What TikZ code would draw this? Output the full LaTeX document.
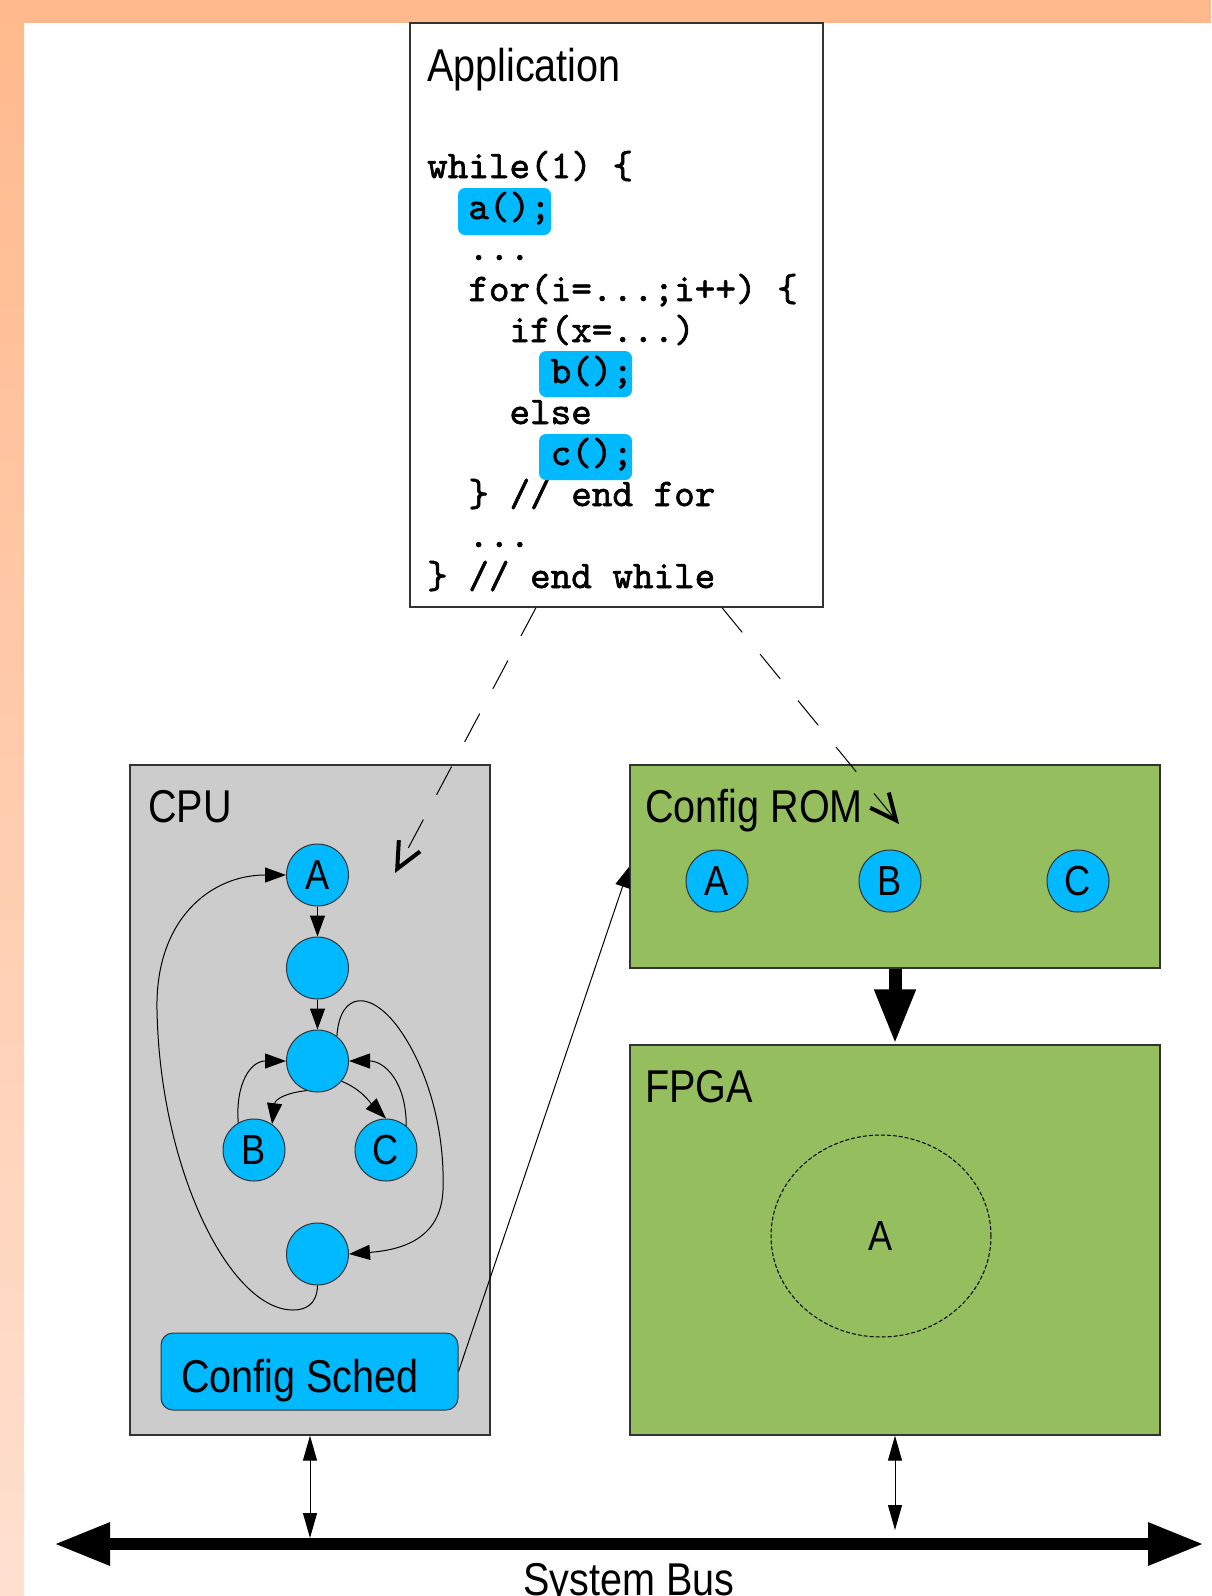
\documentclass[tikz,border=0pt]{standalone}
\usepackage{fontspec}
\usetikzlibrary{arrows.meta,shapes.geometric}
\setmainfont{Liberation Sans}[FakeStretch=0.86]
\newfontfamily\codefam{lmmono10-regular.otf}[FakeBold=1.5]
\newcommand\lblfont{\fontsize{46}{52}\selectfont}
\newcommand\codefont{\codefam\fontsize{39.2}{44}\selectfont}
\definecolor{peach}{HTML}{FFB98C}
\definecolor{peachlight}{HTML}{FFE0D0}
\definecolor{cyanfill}{HTML}{00B9FF}
\definecolor{cpugray}{HTML}{CCCCCC}
\definecolor{romgreen}{HTML}{95BE5F}

\begin{document}
\begin{tikzpicture}[x=1pt,y=-1pt,
  lbl/.style={anchor=base west,inner sep=0pt,font=\lblfont},
  code/.style={anchor=base west,inner sep=0pt,font=\codefont},
  box/.style={draw=black!80,line width=1.3pt,inner sep=0pt},
  gnode/.style={circle,draw=black!80,line width=1pt,fill=cyanfill,minimum size=62pt,inner sep=0pt,font=\fontsize{42}{48}\selectfont},
  flow/.style={line width=1pt,-{Triangle[length=21pt,width=15pt]}},
  hl/.style={fill=cyanfill,rounded corners=7pt},
  lookup/.style={line width=1pt,dash pattern=on 32pt off 28pt,-{Straight Barb[length=26pt,width=24pt,line width=4pt]}},
  biarrow/.style={line width=1pt,{Triangle[length=25pt,width=14pt]}-{Triangle[length=25pt,width=14pt]}},
  bus/.style={line width=12pt,{Triangle[length=56pt,width=40pt]}-{Triangle[length=56pt,width=40pt]}}]
\useasboundingbox (0,0) rectangle (1211,1596);
\fill[white] (0,0) rectangle (1211,1596);
\fill[peach] (0,0) rectangle (1211,23);
\shade[top color=peach,bottom color=peachlight] (0,0) rectangle (24,1596);

% application code
\node[box,fill=white,minimum width=413pt,minimum height=584pt] (app) at (616.5,315) {};
\node[lbl] (apptitle) at (427,81) {Application};
\node[code] (w1) at (427,178) {while(1) \{};
\node[code] (w3) at (468.2,260) {...};
\node[code] (w4) at (468.2,301) {for(i=...;i++) \{};
\node[code] (w5) at (509.3,342) {if(x=...)};
\node[code] (w7) at (509.3,424) {else};
\node[code] (w9) at (468.2,506) {\} // end for};
\node[code] (w10) at (468.2,547) {...};
\node[code] (w11) at (427,588) {\} // end while};
\fill[hl] (458,188) rectangle (551,235);
\node[code] (w2) at (468.2,219) {a();};
\fill[hl] (539,351) rectangle (632,397);
\node[code] (w6) at (550.5,383) {b();};
\fill[hl] (539,434) rectangle (632,480);
\node[code] (w8) at (550.5,465) {c();};

% cpu
\node[box,fill=cpugray,minimum width=360pt,minimum height=670pt] (cpu) at (310,1100) {};
\node[lbl] (cpulabel) at (148,822) {CPU};
\node[gnode] (ca) at (317.5,875) {A};
\node[gnode] (c2) at (317.5,968) {};
\node[gnode] (c3) at (317.5,1061) {};
\node[gnode] (cb) at (254,1150) {B};
\node[gnode] (cc) at (386,1150) {C};
\node[gnode] (c4) at (317.5,1254) {};
\node[draw=black!80,line width=1pt,fill=cyanfill,rounded corners=12pt,minimum width=297pt,minimum height=77pt] (sched) at (309.5,1371.5) {};
\node[lbl] (schedlabel) at (181,1392) {Config Sched};

\draw[flow] (ca) -- (c2);
\draw[flow] (c2) -- (c3);
\draw[flow] (c3.250) .. controls +(-20,2) and +(3,-25) .. (cb.55);
\draw[flow] (cb.120) .. controls +(-3,-40) and +(-35,0) .. (c3.west);
\draw[flow] (c3.-40) .. controls +(20,8) and +(-15,-15) .. (cc.north);
\draw[flow] (cc.50) .. controls +(0,-45) and +(35,0) .. (c3.east);
\draw[flow] (c3.52) .. controls (340,990) and (372,990) .. (400,1030)
  .. controls (428,1070) and (445,1130) .. (443,1190)
  .. controls (441,1240) and (400,1250) .. (c4.east);
\draw[flow] (c4.south) .. controls (317,1305) and (305,1310) .. (293,1310)
  .. controls (230,1310) and (160,1170) .. (157,1010)
  .. controls (155,920) and (210,875) .. (ca.west);

% config rom and fpga
\node[box,fill=romgreen,minimum width=530pt,minimum height=203pt] (rom) at (895,866.5) {};
\node[lbl] (romlabel) at (645,822) {Config ROM};
\node[gnode] (ra) at (717,881) {A};
\node[gnode] (rb) at (890,881) {B};
\node[gnode] (rc) at (1078,881) {C};
\node[box,fill=romgreen,minimum width=530pt,minimum height=390pt] (fpga) at (895,1240) {};
\node[lbl] (fpgalabel) at (645,1102) {FPGA};
\node[ellipse,draw,line width=1pt,dash pattern=on 4pt off 2pt,minimum width=220pt,minimum height=202pt,font=\fontsize{42}{48}\selectfont] (fpgaA) at (881,1236) {A};

\draw[line width=13pt,-{Triangle[length=55pt,width=38pt]}] (rom.south) -- (fpga.north);
\draw[flow] (sched.east) -- (rom.west);

% lookups from the code
\coordinate (cpuhit) at (395,873);
\coordinate (romhit) at (899,824);
\draw[lookup] ([xshift=-80.5pt]app.south) -- (cpuhit);
\draw[lookup] ([xshift=105.5pt]app.south) -- (romhit);

% system bus
\coordinate (busl) at (54,1544);
\coordinate (busr) at (1204,1544);
\coordinate (cpubus) at (310,1538);
\coordinate (fpgabus) at (895,1530);
\draw[bus] (busl) -- (busr);
\draw[biarrow] (cpu.south) -- (cpubus);
\draw[biarrow] (fpga.south) -- (fpgabus);
\node[anchor=base,inner sep=0pt,font=\lblfont] (buslabel) at (629,1595) {System Bus};
\end{tikzpicture}
\end{document}
